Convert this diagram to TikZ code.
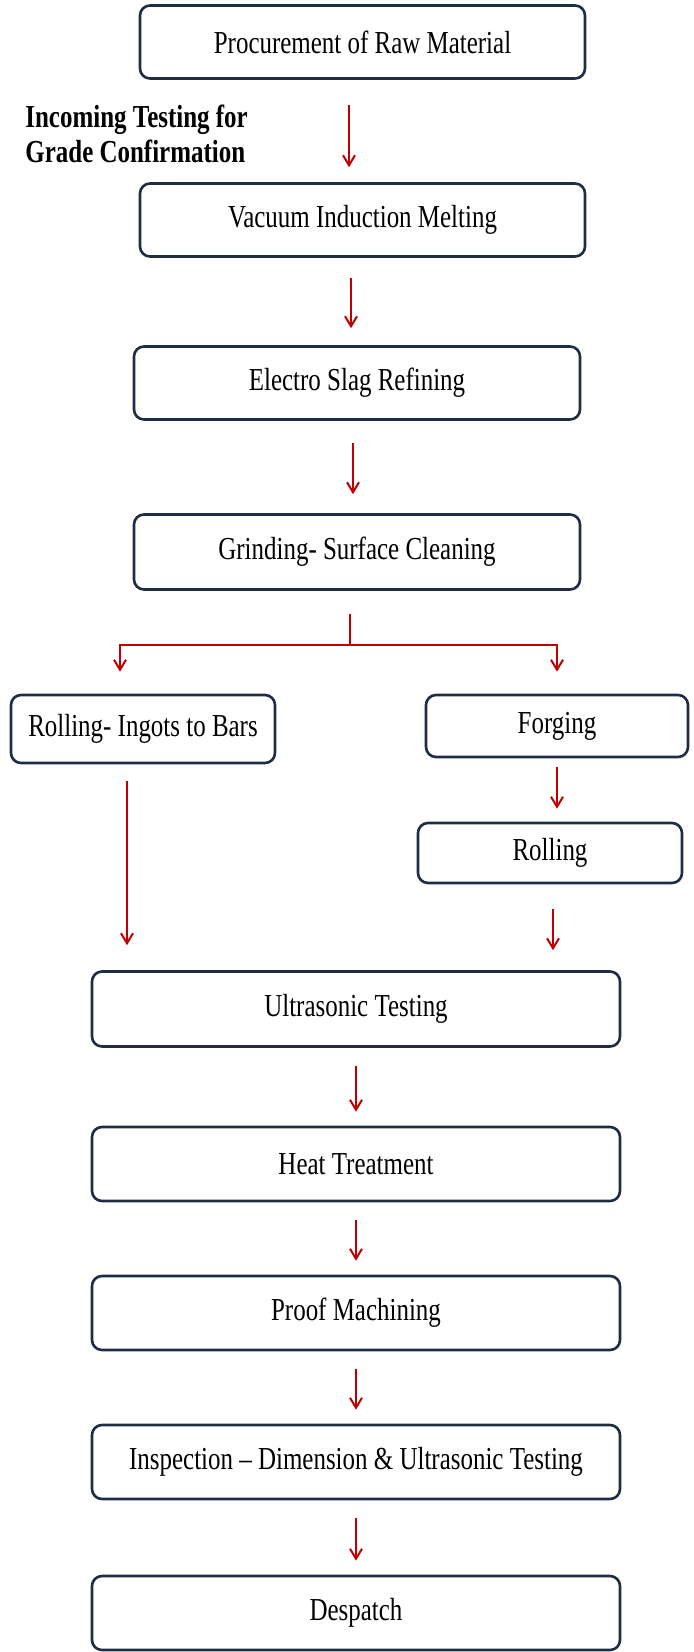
\documentclass[tikz,border=0pt]{standalone}
\usepackage{fontspec}
\setmainfont{Liberation Serif}[FakeStretch=0.78]
\usetikzlibrary{arrows.meta,positioning,calc}
\definecolor{edge}{HTML}{1F2D44}
\definecolor{flow}{HTML}{C00000}

\begin{document}
\begin{tikzpicture}[x=0.5pt,y=-0.5pt, box/.style={draw=edge,line width=1.3pt,rounded corners=5pt,fill=white,align=center,inner sep=0pt,font=\fontsize{16}{18}\selectfont},main/.style={box,minimum width=222.5pt,minimum height=36.5pt},low/.style={box,minimum width=264pt,minimum height=37pt},side/.style={box,minimum width=132pt,minimum height=31pt},arr/.style={-{Straight Barb[length=5pt,width=6pt]},line width=1pt,draw=flow},gap/.style={shorten <=9pt,shorten >=7pt}]
\useasboundingbox (0,0) rectangle (693,1652);
% main column
\node[main] (procure) at (362.5,42) {Procurement of Raw Material};
\node[main] (vim) at (362.5,220) {Vacuum Induction Melting};
\node[main,minimum width=223pt] (esr) at (357,383) {Electro Slag Refining};
\node[main,minimum width=223pt,minimum height=37.5pt] (grind) at (357,552) {Grinding- Surface Cleaning};
\node[font=\bfseries\fontsize{16}{17.5}\selectfont,align=left,anchor=west,inner sep=0pt] (note) at (25,134) {Incoming Testing for\\Grade Confirmation};
% two routes
\node[side,minimum height=34pt] (ingots) at (143,729) {Rolling- Ingots to Bars};
\node[side,minimum width=131pt] (forging) at (557,726) {Forging};
\node[side,minimum height=30pt] (rolling) at (550,853) {Rolling};
\coordinate (fork) at (350,645);
% lower column
\node[low,minimum height=37.5pt] (ut) at (356,1009) {Ultrasonic Testing};
\node[low] (heat) at (356,1164) {Heat Treatment};
\node[low] (proof) at (356,1313) {Proof Machining};
\node[low] (insp) at (356,1462) {Inspection -- Dimension \& Ultrasonic Testing};
\node[low] (desp) at (356,1613) {Despatch};
\draw[arr,shorten <=12.5pt,shorten >=7.5pt] ([xshift=-6.75pt]procure.south) -- ([xshift=-6.75pt]procure.south |- vim.north);
\draw[arr,shorten <=10pt,shorten >=8.5pt] ([xshift=-5.75pt]vim.south) -- ([xshift=-5.75pt]vim.south |- esr.north);
\draw[arr,shorten <=11pt,shorten >=9.5pt] ([xshift=-2pt]esr.south) -- ([xshift=-2pt]esr.south |- grind.north);
\draw[arr,-,shorten <=11.5pt] (grind.south -| fork) -- (fork);
\draw[arr,shorten >=11pt] (fork) -| ([xshift=-11.5pt]ingots.north);
\draw[arr,shorten >=11pt] (fork) -| (forging.north);
\draw[arr,shorten <=4.5pt,shorten >=6.5pt] (forging.south) -- (forging.south |- rolling.north);
\draw[arr,shorten <=8.5pt,shorten >=12.5pt] ([xshift=-8pt]ingots.south) -- ([xshift=-8pt]ingots.south |- ut.north);
\draw[arr,shorten <=12.5pt,shorten >=10pt] ([xshift=1.5pt]rolling.south) -- ([xshift=1.5pt]rolling.south |- ut.north);
\draw[arr,gap] (ut) -- (heat);
\draw[arr,gap] (heat) -- (proof);
\draw[arr,gap] (proof) -- (insp);
\draw[arr,gap] (insp) -- (desp);
\end{tikzpicture}
\end{document}
